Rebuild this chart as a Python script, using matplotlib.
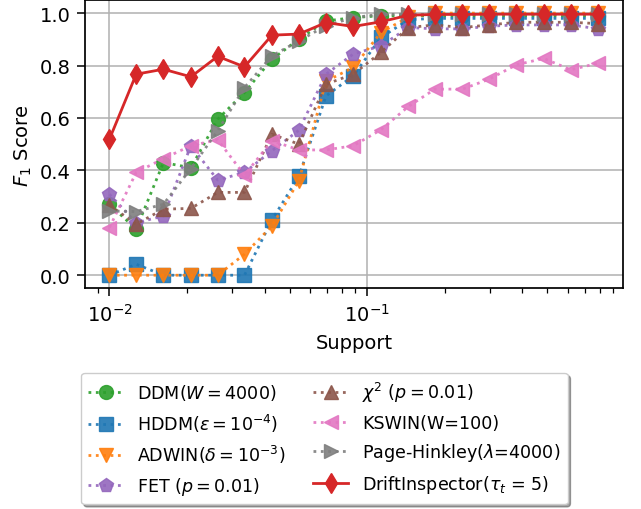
import matplotlib
matplotlib.use("Agg")
import matplotlib.pyplot as plt

support = [0.0100, 0.0127, 0.0162, 0.0207, 0.0263, 0.0334, 0.0427, 0.0543, 0.0692, 0.0883,
           0.113, 0.1445, 0.183, 0.234, 0.297, 0.379, 0.484, 0.616, 0.787]

ddm = [0.27, 0.176, 0.43, 0.41, 0.595, 0.697, 0.824, 0.90, 0.97, 0.983,
       0.99, 0.99, 0.99, 0.99, 0.99, 0.99, 0.99, 0.99, 0.99]
hddm = [0.0, 0.042, 0.0, 0.0, 0.0, 0.0, 0.211, 0.377, 0.684, 0.761,
        0.907, 0.975, 0.98, 0.98, 0.98, 0.98, 0.98, 0.98, 0.98]
adwin = [0.0, 0.0, 0.0, 0.0, 0.0, 0.08, 0.188, 0.36, 0.74, 0.793,
         0.926, 0.985, 1.0, 1.0, 1.0, 1.0, 1.0, 1.0, 1.0]
fet = [0.309, 0.20, 0.226, 0.494, 0.363, 0.392, 0.475, 0.553, 0.767, 0.844,
       0.875, 0.945, 0.94, 0.94, 0.95, 0.955, 0.955, 0.955, 0.94]
chi2 = [0.267, 0.195, 0.252, 0.255, 0.316, 0.316, 0.538, 0.50, 0.729, 0.767,
        0.85, 0.945, 0.955, 0.945, 0.955, 0.965, 0.965, 0.965, 0.96]
kswin = [0.182, 0.392, 0.445, 0.494, 0.517, 0.382, 0.513, 0.478, 0.478, 0.494,
         0.555, 0.644, 0.71, 0.71, 0.748, 0.803, 0.827, 0.784, 0.809]
ph = [0.245, 0.243, 0.271, 0.407, 0.551, 0.716, 0.837, 0.894, 0.952, 0.983,
      0.996, 0.995, 0.995, 0.995, 0.995, 0.995, 0.995, 0.995, 0.995]
di = [0.519, 0.767, 0.786, 0.757, 0.835, 0.795, 0.916, 0.92, 0.964, 0.949,
      0.967, 0.992, 0.995, 0.995, 0.996, 0.996, 0.996, 0.996, 0.996]

labels = [r"DDM($W=4000$)", r"HDDM($\varepsilon=10^{-4}$)", r"ADWIN($\delta=10^{-3}$)",
          r"FET ($p=0.01$)", r"$\chi^2$ ($p=0.01$)", "KSWIN(W=100)",
          r"Page-Hinkley($\lambda$=4000)", r"DriftInspector($\tau_t$ = 5)"]

plt.rcParams['font.size'] = 14
plt.rcParams['xtick.major.size'] = 6
plt.rcParams['ytick.major.size'] = 6
plt.rcParams['xtick.minor.size'] = 3.5
plt.rcParams['xtick.major.width'] = 1.1
plt.rcParams['ytick.major.width'] = 1.1
plt.rcParams['xtick.minor.width'] = 0.9
plt.rcParams['xtick.major.pad'] = 4.5
plt.rcParams['ytick.major.pad'] = 4.5

fig = plt.figure(figsize=(6.41, 5.10), dpi=100)
ax = fig.add_axes([0.1326, 0.4327, 0.9714 - 0.1326, 0.998 - 0.4327])

series = [
    (ddm, 'tab:green', 'o', ':'),
    (hddm, 'tab:blue', 's', ':'),
    (adwin, 'tab:orange', 'v', ':'),
    (fet, 'tab:purple', 'p', ':'),
    (chi2, 'tab:brown', '^', ':'),
    (kswin, 'tab:pink', '<', ':'),
    (ph, 'tab:gray', '>', ':'),
]
for (vals, c, m, ls), lab in zip(series, labels[:7]):
    ax.plot(support, vals, linestyle=ls, marker=m, color=c, lw=2, ms=10,
            alpha=0.9, label=lab)
ax.plot(support, di, linestyle='-', marker='d', color='tab:red', lw=2, ms=10,
        label=labels[7])

ax.set_xscale('log')
ax.set_ylim(-0.05, 1.05)
ax.set_yticks([0.0, 0.2, 0.4, 0.6, 0.8, 1.0])
ax.grid(True, which='major', color='#b0b0b0', lw=1.1)
ax.set_xlabel("Support", labelpad=6)
ax.set_ylabel(r"$F_1$ Score")
for s in ax.spines.values():
    s.set_linewidth(1.25)

handles, labs = ax.get_legend_handles_labels()
fig.legend(handles, labs, loc='upper center', bbox_to_anchor=(0.506, 0.284),
           ncol=2, shadow=True, fancybox=True, framealpha=1, fontsize=12.6,
           handlelength=2, columnspacing=1.6, labelspacing=0.55)

fig.savefig("out.png", dpi=100)
